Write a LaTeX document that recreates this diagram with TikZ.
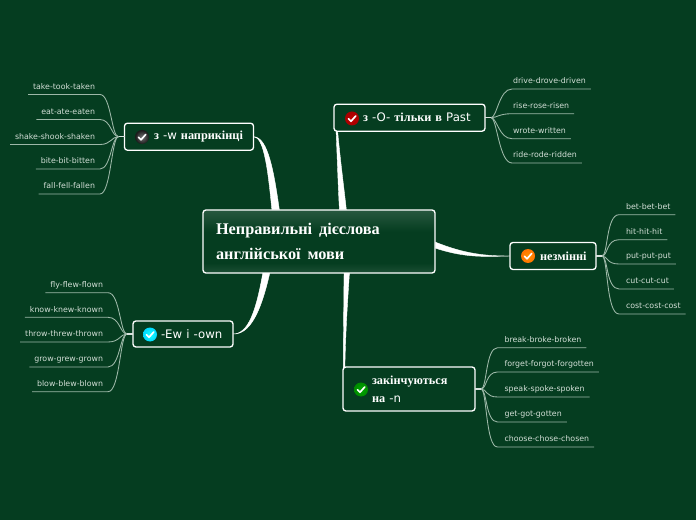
\documentclass[tikz,border=0pt]{standalone}
\usepackage{fontspec}
\usetikzlibrary{calc,backgrounds,shadings}
\setmainfont{Liberation Serif}
\newfontfamily\leaffont{DejaVu Sans}
\newfontfamily\fancyfont{DejaVu Sans}
\definecolor{bgc}{HTML}{053D20}
\definecolor{leaftext}{HTML}{D3DFD7}
\definecolor{leafline}{HTML}{9DB8A8}
\colorlet{mainhi}{white!14!bgc}
\colorlet{mainlo}{white!9!bgc}
\pgfdeclareverticalshading{mainshade}{100bp}{color(0bp)=(mainlo);color(25bp)=(mainlo);color(33bp)=(bgc);color(58bp)=(bgc);color(75bp)=(mainhi);color(100bp)=(mainhi)}
\newcommand{\latin}[1]{{\fancyfont\mdseries\fontsize{8.8pt}{10pt}\selectfont #1}}
\tikzset{
  topic/.style n args={3}{draw=white,line width=1pt,rounded corners=2.2pt,fill=bgc,outer sep=0pt,
    inner xsep=0pt,inner ysep=0pt,minimum width=#1*0.75pt,minimum height=#2*0.75pt,text width=#1*0.75pt,
    align=left,text=white,font=\bfseries\fontsize{9.2pt}{13.5pt}\selectfont,
    execute at begin node={\leftskip=\dimexpr#3pt*3/4\relax}},
  leaf/.style={outer sep=0pt,inner xsep=5*0.75pt,inner ysep=2.6pt,text=leaftext,anchor=south east,
    text height=4.4pt,text depth=1.2pt,font=\leaffont\fontsize{5.9pt}{7pt}\selectfont},
  leafl/.style={leaf,anchor=south west},
  twig/.style={draw=leafline,line width=0.65pt,line join=round},
  stub/.style={draw=white!85!bgc,line width=1.1pt},
  branch/.style={fill=white,draw=white,line width=0.3pt},
  icon/.style n args={2}{circle,inner sep=0pt,minimum size=10.5pt,inner color=#1,outer color=#2},
  tick/.style={draw=white,line width=1.25pt,line cap=round,line join=round},
}
\newcommand{\ticked}[1]{\draw[tick] ($(#1)+(-3.6,0.2)$) -- ($(#1)+(-1,2.8)$) -- ($(#1)+(3.8,-2.6)$);}
\begin{document}
\begin{tikzpicture}[x=0.75pt,y=-0.75pt]
\path[use as bounding box] (0,0) rectangle (696,520);
\begin{scope}[on background layer]
  \fill[bgc] (0,0) rectangle (696,520);
\end{scope}

% central topic
\node[topic={232}{63}{13},shading=mainshade,shading angle=0,
  font=\bfseries\fontsize{12.2pt}{18.7pt}\selectfont] (main) at (319,241.5)
  {Неправильні\hspace{0.42em}дієслова\\англійської\hspace{0.42em}мови};

% main topics
\node[topic={129}{27}{29.5}] (t1) at (189,136.7) {з \latin{-w} наприкінці};
\node[topic={151}{27}{29}]  (t2) at (409.5,117.7) {з \latin{-O-} тільки в \latin{Past}};
\node[topic={86}{27}{30}]   (t3) at (553,256) {незмінні};
\node[topic={100}{26}{28}]  (t4) at (183,334) {\latin{-Ew і -own}};
\node[topic={132}{44}{29}]  (t5) at (409,389) {закінчуються\\на \latin{-n}};

% icons
\node[icon={black!55}{black!90}] (i1) at (142,137) {};
\node[icon={red!75!black}{red!65!black}] (i2) at (352,118.5) {};
\node[icon={orange!85!yellow}{orange!90!red}] (i3) at (528,256) {};
\node[icon={cyan!90!white}{cyan!85!blue}] (i4) at (150,334.5) {};
\node[icon={green!65!black}{green!55!black}] (i5) at (361,389.5) {};
\foreach \ic in {i1,i2,i3,i4,i5} {\ticked{\ic}}

% junctions
\coordinate (j1) at ($(t1.west)+(-6,0)$);
\coordinate (j2) at ($(t2.east)+(6,0)$);
\coordinate (j3) at ($(t3.east)+(6,0)$);
\coordinate (j4) at ($(t4.west)+(-6,0)$);
\coordinate (j5) at ($(t5.east)+(6,0)$);

% leaves: left of t1
\path (100,94.5) node[leaf] (a1) {take-took-taken};
\path (100,119.5) node[leaf] (a2) {eat-ate-eaten};
\path (100,144.5) node[leaf] (a3) {shake-shook-shaken};
\path (100,169) node[leaf] (a4) {bite-bit-bitten};
\path (100,194) node[leaf] (a5) {fall-fell-fallen};
% right of t2
\path (508,89) node[leafl] (b1) {drive-drove-driven};
\path (508,113.7) node[leafl] (b2) {rise-rose-risen};
\path (508,138.7) node[leafl] (b3) {wrote-written};
\path (508,163) node[leafl] (b4) {ride-rode-ridden};
% right of t3
\path (621,214.7) node[leafl] (c1) {bet-bet-bet};
\path (621,239.7) node[leafl] (c2) {hit-hit-hit};
\path (621,264) node[leafl] (c3) {put-put-put};
\path (621,289) node[leafl] (c4) {cut-cut-cut};
\path (621,314) node[leafl] (c5) {cost-cost-cost};
% left of t4
\path (108,292.7) node[leaf] (d1) {fly-flew-flown};
\path (108,317.3) node[leaf] (d2) {know-knew-known};
\path (108,342) node[leaf] (d3) {throw-threw-thrown};
\path (108,367) node[leaf] (d4) {grow-grew-grown};
\path (108,391.7) node[leaf] (d5) {blow-blew-blown};
% right of t5
\path (499.5,347.7) node[leafl] (e1) {break-broke-broken};
\path (499.5,372) node[leafl] (e2) {forget-forgot-forgotten};
\path (499.5,397) node[leafl] (e3) {speak-spoke-spoken};
\path (499.5,422) node[leafl] (e4) {get-got-gotten};
\path (499.5,447) node[leafl] (e5) {choose-chose-chosen};

\foreach \lf in {a1,a2,a3,a4,a5} {
  \draw[twig] (\lf.south west) -- (\lf.south east) .. controls ($(\lf.south east)+(11,0)$) and ($(j1)+(-7,0)$) .. (j1);}
\foreach \lf in {b1,b2,b3,b4} {
  \draw[twig] (\lf.south east) -- ($(\lf.south west)+(4,0)$) .. controls ($(\lf.south west)+(-9,0)$) and ($(j2)+(6,0)$) .. (j2);}
\foreach \lf in {c1,c2,c3,c4,c5} {
  \draw[twig] (\lf.south east) -- ($(\lf.south west)+(-2,0)$) .. controls ($(\lf.south west)+(-15,0)$) and ($(j3)+(6,0)$) .. (j3);}
\foreach \lf in {d1,d2,d3,d4,d5} {
  \draw[twig] (\lf.south west) -- (\lf.south east) .. controls ($(\lf.south east)+(12,0)$) and ($(j4)+(-7,0)$) .. (j4);}
\foreach \lf in {e1,e2,e3,e4,e5} {
  \draw[twig] (\lf.south east) -- ($(\lf.south west)+(-2,0)$) .. controls ($(\lf.south west)+(-14,0)$) and ($(j5)+(6,0)$) .. (j5);}
\draw[stub] (t1.west) -- (j1);
\draw[stub] (t2.east) -- (j2);
\draw[stub] (t3.east) -- (j3);
\draw[stub] (t4.west) -- (j4);
\draw[stub] (t5.east) -- (j5);

% tapered branches
\begin{scope}[on background layer]
  \coordinate (p1a) at (272,211); \coordinate (p1b) at (279.5,211);
  \coordinate (p2a) at (339.5,211); \coordinate (p2b) at (346.5,211);
  \coordinate (p3a) at (435,242); \coordinate (p3b) at (435,248);
  \coordinate (p4a) at (263,272); \coordinate (p4b) at (270,272);
  \coordinate (p5a) at (344,272); \coordinate (p5b) at (349.5,272);
  \fill[branch] (t1.east) .. controls (264,136.7) and (268,170) .. (p1a) -- (p1b) .. controls (274,172) and (268,136.7) .. (t1.east) -- cycle;
  \fill[branch] (335.5,118) .. controls (337,150) and (338,185) .. (p2a) -- (p2b) .. controls (343,180) and (339,150) .. (336.5,118) -- cycle;
  \fill[branch] (t3.west) .. controls (485,256) and (465,254) .. (p3a) -- (p3b) .. controls (465,258) and (485,256.6) .. (t3.west) -- cycle;
  \fill[branch] (t4.east) .. controls (248,334) and (256,312) .. (p4a) -- (p4b) .. controls (261,312) and (250,334.6) .. (t4.east) -- cycle;
  \fill[branch] (343.5,390) .. controls (343,340) and (344,305) .. (p5a) -- (p5b) .. controls (347,310) and (345,340) .. (344.5,390) -- cycle;
\end{scope}
\end{tikzpicture}
\end{document}
